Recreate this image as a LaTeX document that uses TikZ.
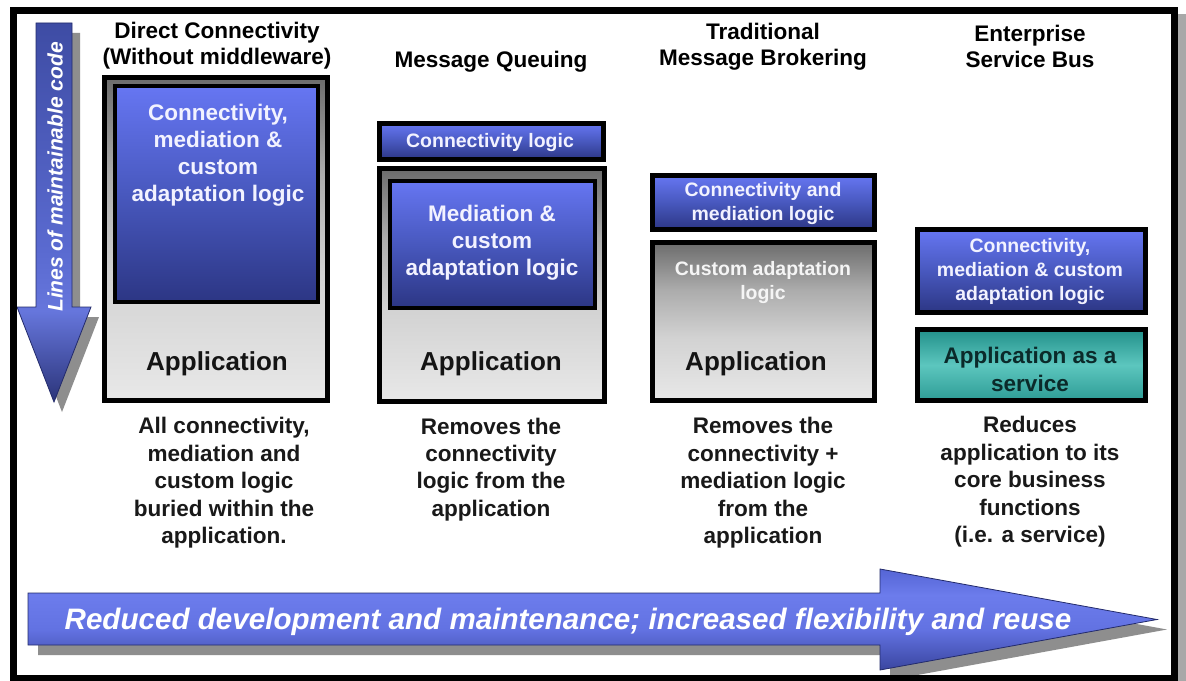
\documentclass[tikz,border=0pt]{standalone}
\usepackage{fontspec}
\setmainfont{Liberation Sans}
\usetikzlibrary{fit}

% palette
\definecolor{bluetop}{HTML}{6676F2}
\definecolor{bluemid}{HTML}{4858BE}
\definecolor{bluebot}{HTML}{2C3684}
\definecolor{graytop}{HTML}{6C6C6C}
\definecolor{graymid}{HTML}{ACACAC}
\definecolor{graylow}{HTML}{D2D2D2}
\definecolor{graybot}{HTML}{E8E8E8}
\definecolor{tealtop}{HTML}{22908A}
\definecolor{tealmid}{HTML}{5CC6BE}
\definecolor{tealbot}{HTML}{2E9C96}
\definecolor{varrtop}{HTML}{3E4CA4}
\definecolor{varrmid}{HTML}{5A6AD0}
\definecolor{varrlow}{HTML}{6676DC}
\definecolor{varrtip}{HTML}{2B3479}
\definecolor{harrtop}{HTML}{5565D5}
\definecolor{harrhi}{HTML}{6C7CEC}
\definecolor{harrmid}{HTML}{6272E2}
\definecolor{harrbot}{HTML}{3A46A0}
\definecolor{shadowgray}{HTML}{8E8E8E}
\definecolor{framegray}{HTML}{A8A8A8}
\definecolor{lighttext}{HTML}{F2F2FF}
\definecolor{tealtext}{HTML}{0B2A2A}
\definecolor{arrowline}{HTML}{232B6B}

% shadings (bounding box maps to 25bp..75bp)
\pgfdeclareverticalshading{blueshade}{100bp}{color(0bp)=(bluebot); color(25bp)=(bluebot); color(50bp)=(bluemid); color(75bp)=(bluetop); color(100bp)=(bluetop)}
\pgfdeclareverticalshading{grayshade}{100bp}{color(0bp)=(graybot); color(25bp)=(graybot); color(45bp)=(graylow); color(60bp)=(graymid); color(75bp)=(graytop); color(100bp)=(graytop)}
\pgfdeclareverticalshading{tealshade}{100bp}{color(0bp)=(tealbot); color(25bp)=(tealbot); color(50bp)=(tealmid); color(75bp)=(tealtop); color(100bp)=(tealtop)}
\pgfdeclareverticalshading{varrowshade}{100bp}{color(0bp)=(varrtip); color(25bp)=(varrtip); color(37bp)=(varrlow); color(45bp)=(varrmid); color(75bp)=(varrtop); color(100bp)=(varrtop)}
\pgfdeclareverticalshading{harrowshade}{100bp}{color(0bp)=(harrbot); color(25bp)=(harrbot); color(45bp)=(harrmid); color(62bp)=(harrhi); color(75bp)=(harrtop); color(100bp)=(harrtop)}

\tikzset{
  outerbox/.style={draw=black, line width=3.75pt, inner sep=0pt, shade, shading=grayshade},
  bluebox/.style={draw=black, line width=3.4pt, inner sep=0pt, shade, shading=blueshade},
  tealbox/.style={draw=black, line width=3.75pt, inner sep=0pt, shade, shading=tealshade},
  lowered/.style={yshift=-2.2pt},
  heading/.style={lowered, font=\fontsize{16.9}{19.5}\selectfont\bfseries, align=center, text=black},
  note/.style={lowered, font=\fontsize{16.9}{20.6}\selectfont\bfseries, align=center, text=black!90},
  apptext/.style={lowered, font=\fontsize{19.5}{22}\selectfont\bfseries, text=black!92},
  logicbig/.style={lowered, font=\fontsize{16.9}{20.3}\selectfont\bfseries, align=center, text=lighttext},
  logicsmall/.style={lowered, font=\fontsize{14.6}{18}\selectfont\bfseries, align=center, text=lighttext},
  tealtxt/.style={lowered, font=\fontsize{16.9}{20.3}\selectfont\bfseries, align=center, text=tealtext},
  arrowbody/.style={draw=arrowline, line width=0.6pt},
  arrowshadow/.style={fill=shadowgray},
}

\begin{document}
\begin{tikzpicture}[x=0.75pt,y=-0.75pt]
  \useasboundingbox[fill=white] (0,0) rectangle (1186,681);

  % vertical arrow: lines of maintainable code
  \fill[arrowshadow, shift={(8,10)}]
    (36,23) -- (72,23) -- (72,307) -- (91,307) -- (54,402) -- (17,307) -- (36,307) -- cycle;
  \path[arrowbody, shade, shading=varrowshade]
    (36,23) -- (72,23) -- (72,307) -- (91,307) -- (54,402) -- (17,307) -- (36,307) -- cycle;
  \node[rotate=90, text=white, font=\fontsize{15.75}{18}\selectfont\bfseries\itshape] (loc) at (55,177) {Lines of maintainable code};

  % column headings
  \node[heading] (h1) at (217,43) {Direct Connectivity\\(Without middleware)};
  \node[heading] (h2) at (491,59) {Message Queuing};
  \node[heading] (h3) at (763,44) {Traditional\\Message Brokering};
  \node[heading] (h4) at (1030,44) {Enterprise\\Service Bus};

  % column 1: direct connectivity
  \node[outerbox, fit={(104.5,77.5) (327.5,400.5)}] (c1out) {};
  \node[bluebox, fit={(115,86) (318,302)}] (c1blue) {};
  \node[logicbig] (c1logic) at (218,152) {Connectivity,\\mediation \&\\custom\\adaptation logic};
  \node[apptext] (c1app) at (217,361) {Application};

  % column 2: message queuing
  \node[bluebox, line width=3.75pt, fit={(379.5,123.5) (603.5,159.5)}] (c2conn) {};
  \node[logicsmall] (c2connt) at (490,140) {Connectivity logic};
  \node[outerbox, fit={(379.5,168.5) (604.5,401.5)}] (c2out) {};
  \node[bluebox, fit={(390,181) (595,308)}] (c2blue) {};
  \node[logicbig] (c2logic) at (492,240) {Mediation \&\\custom\\adaptation logic};
  \node[apptext] (c2app) at (491,361) {Application};

  % column 3: traditional message brokering
  \node[bluebox, line width=3.75pt, fit={(652.5,175.5) (874.5,229.5)}] (c3conn) {};
  \node[logicsmall] (c3connt) at (763,201) {Connectivity and\\mediation logic};
  \node[outerbox, fit={(652.5,242.5) (874.5,400.5)}] (c3out) {};
  \node[logicsmall, text=white!96!black] (c3custom) at (763,279.5) {Custom adaptation\\logic};
  \node[apptext] (c3app) at (756,361) {Application};

  % column 4: enterprise service bus
  \node[bluebox, line width=3.75pt, fit={(917.5,229.5) (1145.5,312.5)}] (c4conn) {};
  \node[logicsmall] (c4connt) at (1030,269) {Connectivity,\\mediation \& custom\\adaptation logic};
  \node[tealbox, fit={(917.5,329.5) (1145.5,400.5)}] (c4app) {};
  \node[tealtxt] (c4appt) at (1030,366.5) {Application as a\\service};

  % descriptions
  \node[note] (n1) at (224,480) {All connectivity,\\mediation and\\custom logic\\buried within the\\application.};
  \node[note] (n2) at (491,466.5) {Removes the\\connectivity\\logic from the\\application};
  \node[note] (n3) at (763,480) {Removes the\\connectivity +\\mediation logic\\from the\\application};
  \node[note] (n4) at (1030,479) {Reduces\\application to its\\core business\\functions\\(i.e. a service)};

  % horizontal arrow: benefits
  \fill[arrowshadow, shift={(10,10)}]
    (28,593) -- (880,593) -- (880,569) -- (1157,619.5) -- (880,670) -- (880,645) -- (28,645) -- cycle;
  \path[arrowbody, shade, shading=harrowshade]
    (28,593) -- (880,593) -- (880,569) -- (1157,619.5) -- (880,670) -- (880,645) -- (28,645) -- cycle;
  \node[lowered, text=white, font=\fontsize{22.2}{24}\selectfont\bfseries\itshape] (benefit) at (568,619)
    {Reduced development and maintenance; increased flexibility and reuse};

  % outer frame with its shadow
  \fill[framegray] (1178,14) rectangle (1186,681);
  \node[draw=black, line width=5.25pt, inner sep=0pt, fit={(13.5,10.5) (1174,678)}] (frame) {};
\end{tikzpicture}
\end{document}
